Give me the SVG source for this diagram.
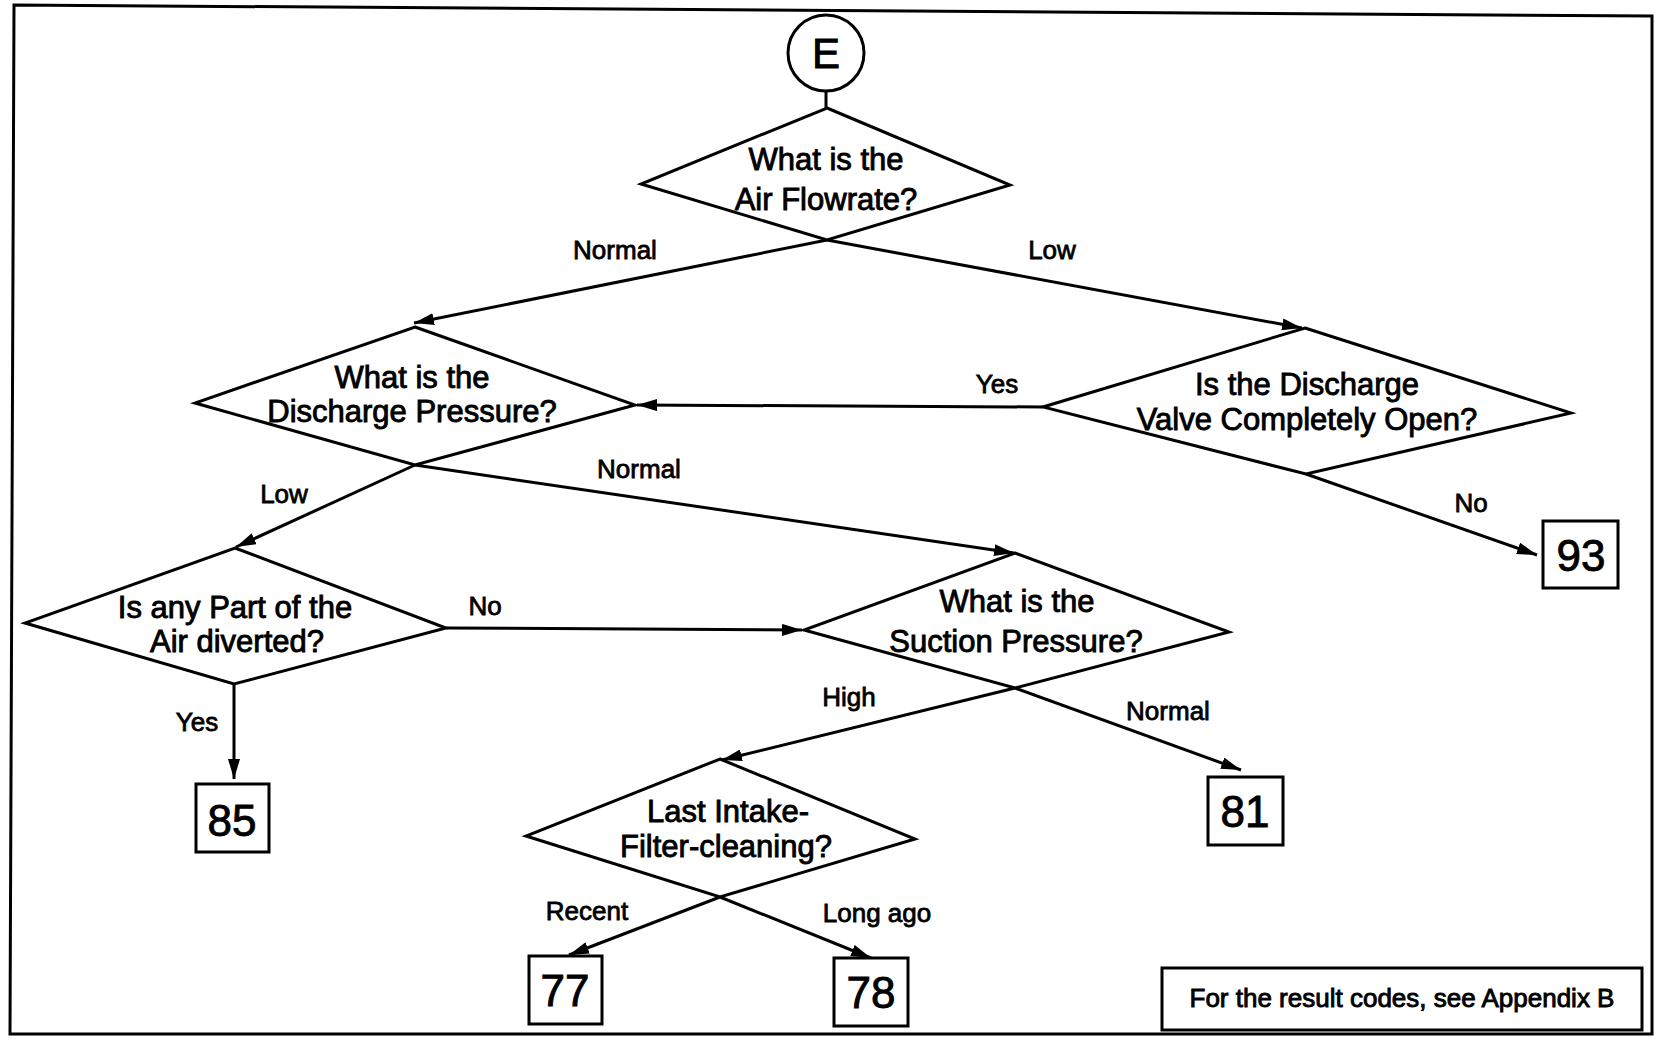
<svg xmlns="http://www.w3.org/2000/svg" width="1655" height="1039" viewBox="0 0 1655 1039">
  <style>
    .shape { fill: #fff; stroke: #000; stroke-width: 3; stroke-linejoin: miter; }
    .frame { fill: none; stroke: #000; stroke-width: 3; }
    .edge { fill: none; stroke: #000; stroke-width: 3; }
    .q { font-family: "Liberation Sans", Arial, Helvetica, sans-serif; font-size: 31px; text-anchor: middle; fill: #000; stroke: #000; stroke-width: 0.9; }
    .lbl { font-family: "Liberation Sans", Arial, Helvetica, sans-serif; font-size: 26px; text-anchor: middle; fill: #000; stroke: #000; stroke-width: 0.8; }
    .num { font-family: "Liberation Sans", Arial, Helvetica, sans-serif; font-size: 44px; text-anchor: middle; fill: #000; stroke: #000; stroke-width: 0.9; }
    .note { font-family: "Liberation Sans", Arial, Helvetica, sans-serif; font-size: 26px; text-anchor: middle; fill: #000; stroke: #000; stroke-width: 0.9; }
  </style>
  <defs>
    <marker id="arrow" markerUnits="userSpaceOnUse" markerWidth="20" markerHeight="12" refX="20" refY="6" orient="auto">
      <path d="M0,0 L20,6 L0,12 z" fill="#000"/>
    </marker>
  </defs>

  <rect x="0" y="0" width="1655" height="1039" fill="#fff"/>
  <polygon class="frame" points="14,5 1652,16 1652,1034 10,1034"/>

  <!-- connectors -->
  <g id="connectors">
    <line class="edge" x1="826" y1="91" x2="826" y2="108"/>
    <line class="edge" x1="827" y1="240" x2="414" y2="323" marker-end="url(#arrow)"/>
    <line class="edge" x1="827" y1="240" x2="1302" y2="328" marker-end="url(#arrow)"/>
    <line class="edge" x1="1043" y1="407" x2="637" y2="405" marker-end="url(#arrow)"/>
    <line class="edge" x1="1306" y1="474" x2="1537" y2="555" marker-end="url(#arrow)"/>
    <line class="edge" x1="415" y1="465" x2="236" y2="547" marker-end="url(#arrow)"/>
    <line class="edge" x1="415" y1="465" x2="1014" y2="553" marker-end="url(#arrow)"/>
    <line class="edge" x1="446" y1="628" x2="802" y2="630" marker-end="url(#arrow)"/>
    <line class="edge" x1="234" y1="684" x2="234" y2="779" marker-end="url(#arrow)"/>
    <line class="edge" x1="1015" y1="688" x2="722" y2="760" marker-end="url(#arrow)"/>
    <line class="edge" x1="1015" y1="688" x2="1241" y2="770" marker-end="url(#arrow)"/>
    <line class="edge" x1="720" y1="897" x2="569" y2="955" marker-end="url(#arrow)"/>
    <line class="edge" x1="720" y1="897" x2="871" y2="958" marker-end="url(#arrow)"/>

    <text class="lbl" x="615" y="259">Normal</text>
    <text class="lbl" x="1052" y="259">Low</text>
    <text class="lbl" x="997" y="393">Yes</text>
    <text class="lbl" x="1471" y="512">No</text>
    <text class="lbl" x="284" y="503">Low</text>
    <text class="lbl" x="639" y="478">Normal</text>
    <text class="lbl" x="485" y="615">No</text>
    <text class="lbl" x="197" y="731">Yes</text>
    <text class="lbl" x="849" y="706">High</text>
    <text class="lbl" x="1168" y="720">Normal</text>
    <text class="lbl" x="587" y="920">Recent</text>
    <text class="lbl" x="877" y="922">Long ago</text>
  </g>

  <!-- start connector -->
  <g id="start">
    <circle class="shape" cx="826" cy="53" r="38"/>
    <text class="num" x="826" y="68" style="font-size:42px">E</text>
  </g>

  <!-- decisions -->
  <g id="q-air-flowrate">
    <polygon class="shape" points="827,108 1010,185 827,240 641,184"/>
    <text class="q" x="826" y="170">What is the</text>
    <text class="q" x="826" y="210">Air Flowrate?</text>
  </g>

  <g id="q-discharge-pressure">
    <polygon class="shape" points="415,327 635,405 415,465 195,403"/>
    <text class="q" x="412" y="388">What is the</text>
    <text class="q" x="412" y="422">Discharge Pressure?</text>
  </g>

  <g id="q-valve-open">
    <polygon class="shape" points="1305,328 1571,413 1306,474 1043,407"/>
    <text class="q" x="1307" y="395">Is the Discharge</text>
    <text class="q" x="1307" y="430">Valve Completely Open?</text>
  </g>

  <g id="q-air-diverted">
    <polygon class="shape" points="235,548 446,628 234,684 25,623"/>
    <text class="q" x="235" y="618">Is any Part of the</text>
    <text class="q" x="237" y="652">Air diverted?</text>
  </g>

  <g id="q-suction-pressure">
    <polygon class="shape" points="1015,553 1229,632 1015,688 804,630"/>
    <text class="q" x="1017" y="612">What is the</text>
    <text class="q" x="1016" y="652">Suction Pressure?</text>
  </g>

  <g id="q-filter-cleaning">
    <polygon class="shape" points="720,759 915,839 720,897 526,836"/>
    <text class="q" x="728" y="822">Last Intake-</text>
    <text class="q" x="726" y="857">Filter-cleaning?</text>
  </g>

  <!-- result codes -->
  <g id="r85">
    <rect class="shape" x="196" y="784" width="73" height="68"/>
    <text class="num" x="232" y="836">85</text>
  </g>
  <g id="r93">
    <rect class="shape" x="1543" y="521" width="75" height="67"/>
    <text class="num" x="1581" y="571">93</text>
  </g>
  <g id="r81">
    <rect class="shape" x="1208" y="777" width="75" height="68"/>
    <text class="num" x="1245" y="827">81</text>
  </g>
  <g id="r77">
    <rect class="shape" x="529" y="956" width="73" height="68"/>
    <text class="num" x="565" y="1006">77</text>
  </g>
  <g id="r78">
    <rect class="shape" x="834" y="958" width="74" height="68"/>
    <text class="num" x="871" y="1008">78</text>
  </g>

  <g id="note">
    <rect class="shape" x="1162" y="968" width="480" height="62"/>
    <text class="note" x="1402" y="1007">For the result codes, see Appendix B</text>
  </g>
</svg>
